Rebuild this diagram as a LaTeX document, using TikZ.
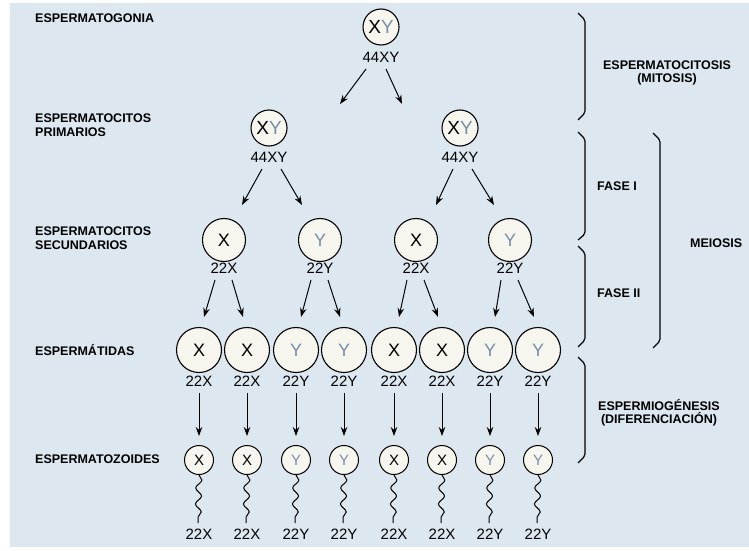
\documentclass[tikz,border=0pt]{standalone}
\usepackage{fontspec}
\setmainfont{Liberation Sans}
\usetikzlibrary{arrows.meta,decorations.pathmorphing,calc}
\definecolor{bgblue}{RGB}{221,231,240}
\definecolor{cellfill}{RGB}{246,245,238}
\definecolor{ycol}{RGB}{118,143,170}
\newcommand{\chY}{\textcolor{ycol}{Y}}
\begin{document}
\begin{tikzpicture}[x=1pt,y=-1pt,
  lbl/.style={font=\fontsize{12.5}{13.5}\selectfont\bfseries, anchor=west, align=left, inner sep=0pt},
  lblc/.style={font=\fontsize{12.5}{13.5}\selectfont\bfseries, align=center, inner sep=0pt},
  num/.style={font=\fontsize{15}{15}\selectfont, inner sep=0pt},
  cellbase/.style={circle, draw, line width=1.1pt, fill=cellfill, inner sep=0pt},
  cellA/.style={cellbase, minimum size=36pt, font=\fontsize{19}{19}\selectfont},
  cellB/.style={cellbase, minimum size=43pt, font=\fontsize{18}{18}\selectfont},
  cellC/.style={cellbase, minimum size=45pt, font=\fontsize{18}{18}\selectfont},
  cellD/.style={cellbase, minimum size=29pt, line width=1pt, font=\fontsize{15}{15}\selectfont},
  arr/.style={line width=1pt, -{Stealth[length=9pt,width=6.5pt]}},
  tail/.style={line width=1pt, decorate, decoration={snake, amplitude=3pt, segment length=16pt}},
  brace/.style={line width=1.2pt, rounded corners=2pt},
]
\useasboundingbox (0,0) rectangle (749,551);
\fill[white] (0,0) rectangle (749,551);
\fill[bgblue] (10,3) rectangle (749,547);

% left labels
\node[lbl] (l1) at (35,18) {ESPERMATOGONIA};
\node[lbl] (l2) at (35,125) {ESPERMATOCITOS\\PRIMARIOS};
\node[lbl] (l3) at (35,238) {ESPERMATOCITOS\\SECUNDARIOS};
\node[lbl] (l4) at (35,350) {ESPERMÁTIDAS};
\node[lbl] (l5) at (35,459) {ESPERMATOZOIDES};

% spermatogonium
\node[cellA] (g) at (381,27) {X\chY};
\node[num] (g44) at (381,57) {44XY};

% primary spermatocytes
\node[cellA] (p1) at (269,128) {X\chY};
\node[num] (p1l) at (269,157) {44XY};
\node[cellA] (p2) at (460,128) {X\chY};
\node[num] (p2l) at (460,157) {44XY};

\draw[arr] ($(g44)+(-15,12)$) -- ($(p1)+(71,-24)$);
\draw[arr] ($(g44)+(5,12)$) -- ($(p2)+(-58,-24)$);

% secondary spermatocytes
\node[cellB] (s1) at (224,240) {X};
\node[num] (s1l) at (224,268) {22X};
\node[cellB] (s2) at (320,240) {\chY};
\node[num] (s2l) at (320,268) {22Y};
\node[cellB] (s3) at (416,240) {X};
\node[num] (s3l) at (416,268) {22X};
\node[cellB] (s4) at (510,240) {\chY};
\node[num] (s4l) at (510,268) {22Y};

\draw[arr] ($(p1l)+(-7,12)$) -- ($(s1)+(18,-35)$);
\draw[arr] ($(p1l)+(12,12)$) -- ($(s2)+(-18,-35)$);
\draw[arr] ($(p2l)+(-7,12)$) -- ($(s3)+(20,-35)$);
\draw[arr] ($(p2l)+(12,12)$) -- ($(s4)+(-16,-35)$);

% spermatids and spermatozoa
\foreach \i/\x/\c/\n in {1/199/X/X,2/247/X/X,3/296/\chY/Y,4/344/\chY/Y,5/394/X/X,6/442/X/X,7/490/\chY/Y,8/538/\chY/Y}{
  \node[cellC] (t\i) at (\x,350) {\c};
  \node[num] (tl\i) at (\x,381) {22\n};
  \node[cellD] (z\i) at (\x,460) {\c};
  \node[num] (zl\i) at (\x,534) {22\n};
  \draw[arr] ($(tl\i)+(0,12)$) -- ($(z\i)+(0,-24)$);
  \draw[tail] (z\i.south) -- ($(zl\i)+(-1,-11)$);
}

\draw[arr] ($(s1l)+(-9,12)$) -- ($(t1)+(5,-33)$);
\draw[arr] ($(s1l)+(8,12)$) -- ($(t2)+(-4,-33)$);
\draw[arr] ($(s2l)+(-9,12)$) -- ($(t3)+(5,-33)$);
\draw[arr] ($(s2l)+(8,12)$) -- ($(t4)+(-4,-33)$);
\draw[arr] ($(s3l)+(-9,12)$) -- ($(t5)+(5,-33)$);
\draw[arr] ($(s3l)+(8,12)$) -- ($(t6)+(-4,-33)$);
\draw[arr] ($(s4l)+(-9,12)$) -- ($(t7)+(5,-33)$);
\draw[arr] ($(s4l)+(8,12)$) -- ($(t8)+(-4,-33)$);

% braces
\draw[brace] (578,13) -- (585,20) -- (585,113) -- (578,120);
\draw[brace] (578,132) -- (585,139) -- (585,234) -- (578,240);
\draw[brace] (578,246) -- (585,253) -- (585,340) -- (578,347);
\draw[brace] (578,357) -- (585,364) -- (585,456) -- (578,463);
\draw[brace] (653,133) -- (660,140) -- (660,341) -- (653,348);

% brace labels
\node[lblc] (b1) at (667,73) {ESPERMATOCITOSIS\\(MITOSIS)};
\node[lbl] (b2) at (597,186) {FASE I};
\node[lbl] (b3) at (597,293) {FASE II};
\node[lbl] (b4) at (690,243) {MEIOSIS};
\node[lblc] (b5) at (659,413) {ESPERMIOGÉNESIS\\(DIFERENCIACIÓN)};
\end{tikzpicture}
\end{document}
